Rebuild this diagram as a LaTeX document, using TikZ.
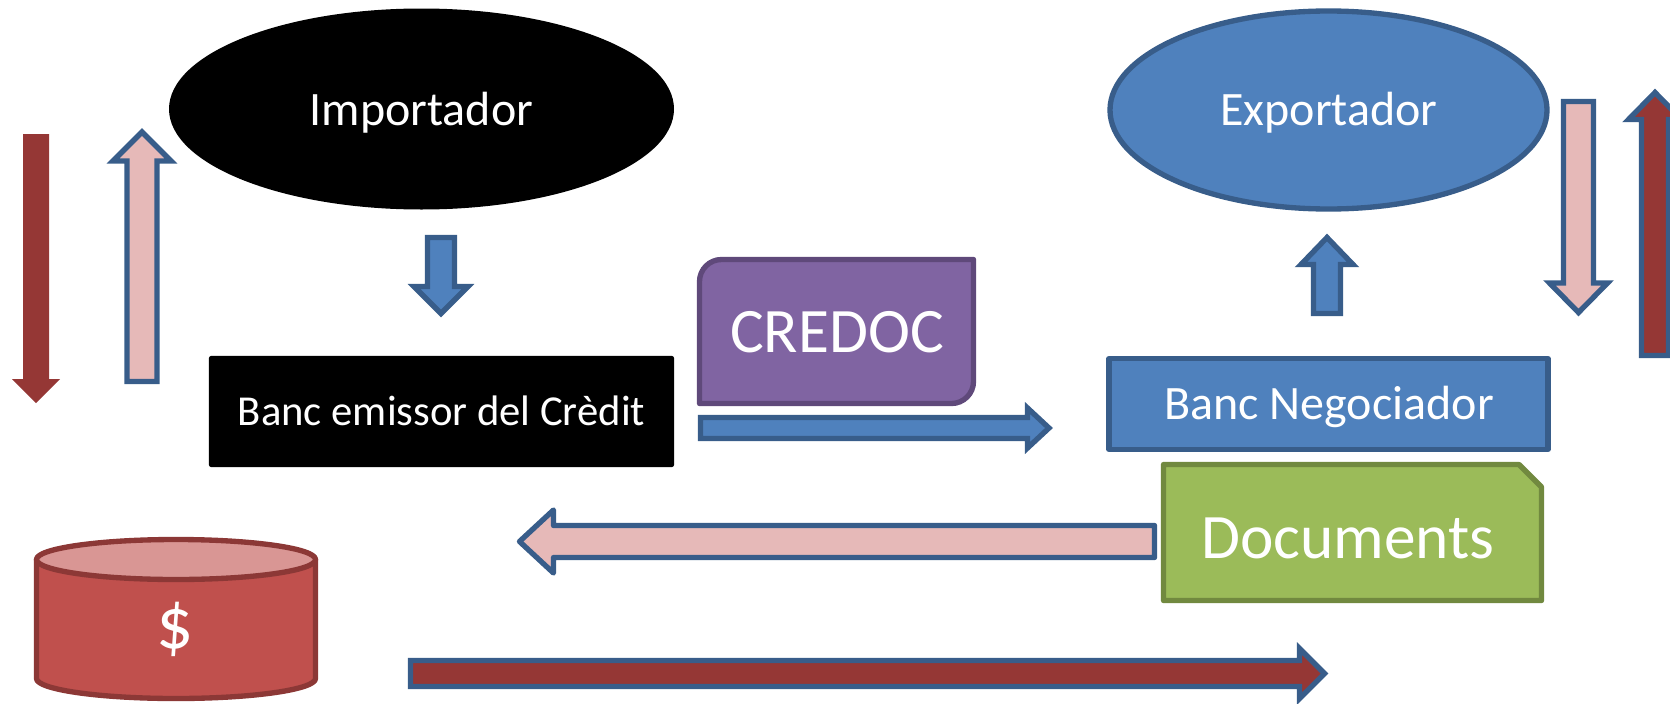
\documentclass[tikz,border=0pt]{standalone}
\usepackage{fontspec}
\setmainfont{Carlito}
\usetikzlibrary{shapes.geometric}
\definecolor{blueF}{HTML}{4F81BD}
\definecolor{blueS}{HTML}{385D8A}
\definecolor{pinkF}{HTML}{E6B9B8}
\definecolor{darkR}{HTML}{953735}
\definecolor{purF}{HTML}{8064A2}
\definecolor{purS}{HTML}{5F497A}
\definecolor{grnF}{HTML}{9BBB59}
\definecolor{grnS}{HTML}{71893F}
\definecolor{redF}{HTML}{C0504D}
\definecolor{redS}{HTML}{8C3836}
\definecolor{redL}{HTML}{D99694}
\tikzset{
  x=0.75pt,y=-0.75pt,
  stk/.style={line width=4pt},
  boxshape/.style={inner sep=0pt,outer sep=0pt,line join=round},
  blackbox/.style={boxshape,fill=black,draw=black,line width=1pt,rounded corners=1.5pt},
  blueshape/.style={boxshape,stk,fill=blueF,draw=blueS},
  pinkarrow/.style={stk,fill=pinkF,draw=blueS,line join=miter},
  bluearrow/.style={stk,fill=blueF,draw=blueS,line join=miter},
  darkarrow/.style={stk,fill=darkR,draw=blueS,line join=miter},
  plainarrow/.style={fill=darkR,draw=none},
  txt/.style={text=white,anchor=base,inner sep=0pt,outer sep=0pt},
  t32/.style={txt,font=\fontsize{32}{38}\selectfont},
  t35/.style={txt,font=\fontsize{36}{42}\selectfont},
  t47/.style={txt,font=\fontsize{47.5}{56}\selectfont},
}
\begin{document}
\begin{tikzpicture}
\clip (0,0) rectangle (1670,703);
% ellipses
\node[ellipse,fill=black,inner sep=0pt,outer sep=0pt,minimum width=505*0.75pt,minimum height=201*0.75pt] (imp) at (421.5,109) {};
\node[ellipse,blueshape,minimum width=437*0.75pt,minimum height=198*0.75pt] (exp) at (1328.5,110) {};
\node[t35] (impT) at (421.5,125) {Importador};
\node[t35] (expT) at (1329,125) {Exportador};
% banks
\node[blackbox,minimum width=464*0.75pt,minimum height=110*0.75pt] (emi) at (441.5,411.5) {};
\node[t32] (emiT) at (441.5,425) {Banc emissor del Crèdit};
\node[blueshape,minimum width=439*0.75pt,minimum height=91*0.75pt] (neg) at (1328.5,404) {};
\node[t35] (negT) at (1329,419) {Banc Negociador};
% credoc
\path[boxshape,stk,fill=purF,draw=purS] (699.5,403.5) -- (699.5,281.5) .. controls (699.5,269.4) and (709.4,259.5) .. (721.5,259.5) -- (973.5,259.5) -- (973.5,381.5) .. controls (973.5,393.6) and (963.6,403.5) .. (951.5,403.5) -- cycle;
\node[t47] (creT) at (837,352.5) {CREDOC};
% documents
\path[boxshape,stk,fill=grnF,draw=grnS] (1163.5,464.5) -- (1519,464.5) -- (1541.5,487) -- (1541.5,600.5) -- (1163.5,600.5) -- cycle;
\node[t47] (docT) at (1348,558) {Documents};
% cylinder
\path[boxshape,stk,fill=redF,draw=redS] (36.5,559.5) -- (36.5,678.5) .. controls (36.5,689.5) and (99,698.5) .. (176,698.5) .. controls (253,698.5) and (315.5,689.5) .. (315.5,678.5) -- (315.5,559.5) -- cycle;
\path[boxshape,stk,fill=redL,draw=redS] (176,559.5) ellipse[x radius=139.5,y radius=20];
\node[txt,font=\fontsize{55}{64}\selectfont] (dolT) at (175.5,648.5) {\$};
% arrows
\path[plainarrow] (23,134) -- (49,134) -- (49,379) -- (60,379) -- (36,403) -- (12,379) -- (23,379) -- cycle;
\path[pinkarrow] (127,381.5) -- (127,161) -- (113,161) -- (142,132) -- (171,161) -- (157,161) -- (157,381.5) -- cycle;
\path[bluearrow] (427.5,237.5) -- (454.5,237.5) -- (454.5,286.5) -- (468,286.5) -- (441,313.5) -- (414,286.5) -- (427.5,286.5) -- cycle;
\path[bluearrow] (1313.5,313.5) -- (1313.5,264.5) -- (1301,264.5) -- (1327,237.5) -- (1353,264.5) -- (1340.5,264.5) -- (1340.5,313.5) -- cycle;
\path[pinkarrow] (1563.5,101.5) -- (1593.5,101.5) -- (1593.5,283) -- (1607.5,283) -- (1578.5,312.5) -- (1549.5,283) -- (1563.5,283) -- cycle;
\path[darkarrow] (1641.5,355.5) -- (1641.5,119.5) -- (1628.5,119.5) -- (1655,92.5) -- (1681.5,119.5) -- (1668.5,119.5) -- (1668.5,355.5) -- cycle;
\path[bluearrow] (700.5,417.5) -- (1027.5,417.5) -- (1027.5,408) -- (1049,428) -- (1027.5,448) -- (1027.5,438.5) -- (700.5,438.5) -- cycle;
\path[pinkarrow,line join=round] (1154.5,525.5) -- (553.5,525.5) -- (553.5,510) -- (519.5,541.5) -- (553.5,573) -- (553.5,557.5) -- (1154.5,557.5) -- cycle;
\path[darkarrow] (410.5,660.5) -- (1299.5,660.5) -- (1299.5,648.5) -- (1324.5,673.5) -- (1299.5,698.5) -- (1299.5,686.5) -- (410.5,686.5) -- cycle;
\end{tikzpicture}
\end{document}
